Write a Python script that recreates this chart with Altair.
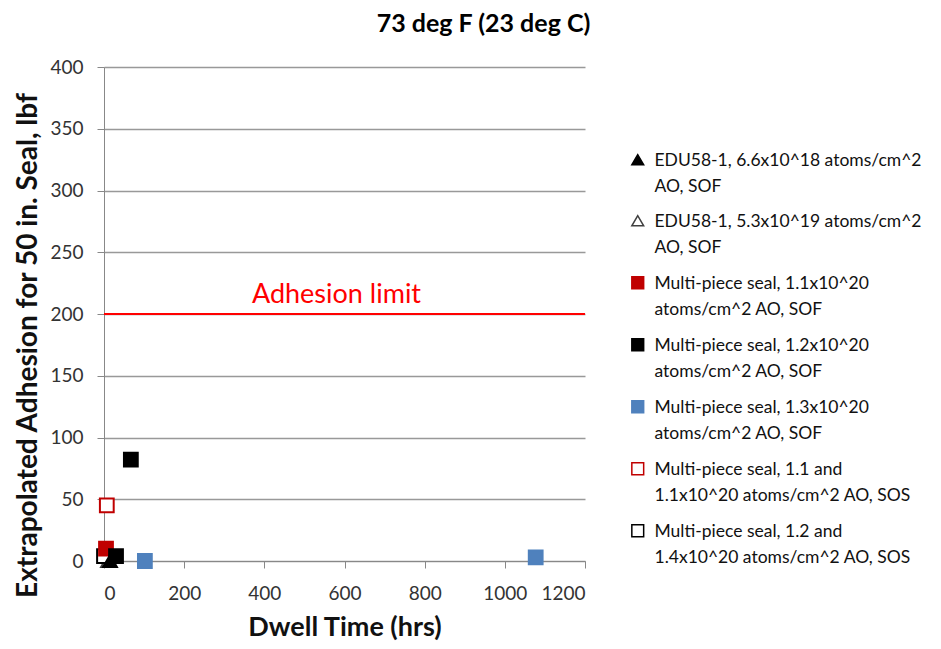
import altair as alt
import pandas as pd

series_names = [
    "EDU58-1, 6.6x10^18 atoms/cm^2|AO, SOF",
    "EDU58-1, 5.3x10^19 atoms/cm^2|AO, SOF",
    "Multi-piece seal, 1.1x10^20|atoms/cm^2 AO, SOF",
    "Multi-piece seal, 1.2x10^20|atoms/cm^2 AO, SOF",
    "Multi-piece seal, 1.3x10^20|atoms/cm^2 AO, SOF",
    "Multi-piece seal, 1.1 and|1.1x10^20 atoms/cm^2 AO, SOS",
    "Multi-piece seal, 1.2 and|1.4x10^20 atoms/cm^2 AO, SOS",
]
series_shapes = ["triangle-up", "triangle-up", "square", "square", "square", "square", "square"]
series_fill = ["#000000", "#ffffff", "#C00000", "#000000", "#4F81BD", "#ffffff", "#ffffff"]
series_stroke = ["#000000", "#404040", "#C00000", "#000000", "#4F81BD", "#C00000", "#000000"]

# listed in drawing order (bottom first)
point_series = [1, 6, 5, 4, 4, 2, 3, 3, 0]
point_x = [10, 0, 7, 102, 1077, 5, 67, 30, 15]
point_y = [0, 4, 45, 0, 3, 10, 82, 4, 0]

limit_value = [200]
limit_label = ["Adhesion limit"]
limit_label_x = [580]
limit_label_y = [209]

FONT = "Lato"

df = pd.DataFrame({
    "series": [series_names[i] for i in point_series],
    "x": point_x,
    "y": point_y,
})

LABEL_DY = -8

x_enc = alt.X("x:Q", scale=alt.Scale(domain=[0, 1200], nice=False),
              axis=alt.Axis(title="Dwell Time (hrs)", values=list(range(0, 1201, 200)),
                            format="d", grid=False, titleFontSize=27, titleFontWeight="bold",
                            titlePadding=11, labelFontSize=19, labelPadding=24))
y_enc = alt.Y("y:Q", scale=alt.Scale(domain=[0, 400], nice=False),
              axis=alt.Axis(title="Extrapolated Adhesion for 50 in. Seal, lbf",
                            values=list(range(0, 401, 50)), grid=True,
                            titleFontSize=28, titleFontWeight="bold",
                            titleX=-62, titleY=278, labelFontSize=19, labelPadding=14,
                            labelOffset=-LABEL_DY))

legend = alt.Legend(title=None, orient="none", legendX=525, legendY=84,
                    labelExpr="split(datum.label, '|')", labelFontSize=17.5,
                    labelLimit=400, symbolSize=140, symbolStrokeWidth=1.5,
                    rowPadding=16, labelBaseline="top", labelOffset=8)

points = alt.Chart(df).mark_point(filled=False, opacity=1, size=190, strokeWidth=2).encode(
    x=x_enc,
    y=y_enc,
    shape=alt.Shape("series:N", scale=alt.Scale(domain=series_names, range=series_shapes), legend=legend),
    fill=alt.Fill("series:N", scale=alt.Scale(domain=series_names, range=series_fill), legend=legend),
    stroke=alt.Stroke("series:N", scale=alt.Scale(domain=series_names, range=series_stroke), legend=legend),
)

rule = alt.Chart(pd.DataFrame({"y": limit_value})).mark_rule(color="#FF0000", strokeWidth=2).encode(
    y="y:Q"
)
label = alt.Chart(pd.DataFrame({"x": limit_label_x, "y": limit_label_y, "t": limit_label})).mark_text(
    color="#FF0000", fontSize=27, align="center", baseline="alphabetic", font=FONT
).encode(x="x:Q", y="y:Q", text="t:N")

chart = alt.layer(rule, label, points).properties(
    width=481, height=494,
    title=alt.TitleParams("73 deg F (23 deg C)", fontSize=25, fontWeight="bold", font=FONT,
                          anchor="middle", dx=139, offset=21),
    autosize=alt.AutoSizeParams(type="none"),
    padding={"left": 96, "top": 59, "right": 348, "bottom": 80},
).configure(
    font=FONT,
    style={"guide-label": {"dy": LABEL_DY, "lineHeight": 26}},
).configure_axis(
    labelFont=FONT, titleFont=FONT, domainColor="#888888", tickColor="#888888",
    gridColor="#999999", gridWidth=1.3, labelColor="#333333", titleColor="#111111",
    tickSize=7,
).configure_legend(labelFont=FONT, labelColor="#111111").configure_view(stroke=None)

chart.save("out.html", embed_options={"renderer": "svg", "actions": False})
